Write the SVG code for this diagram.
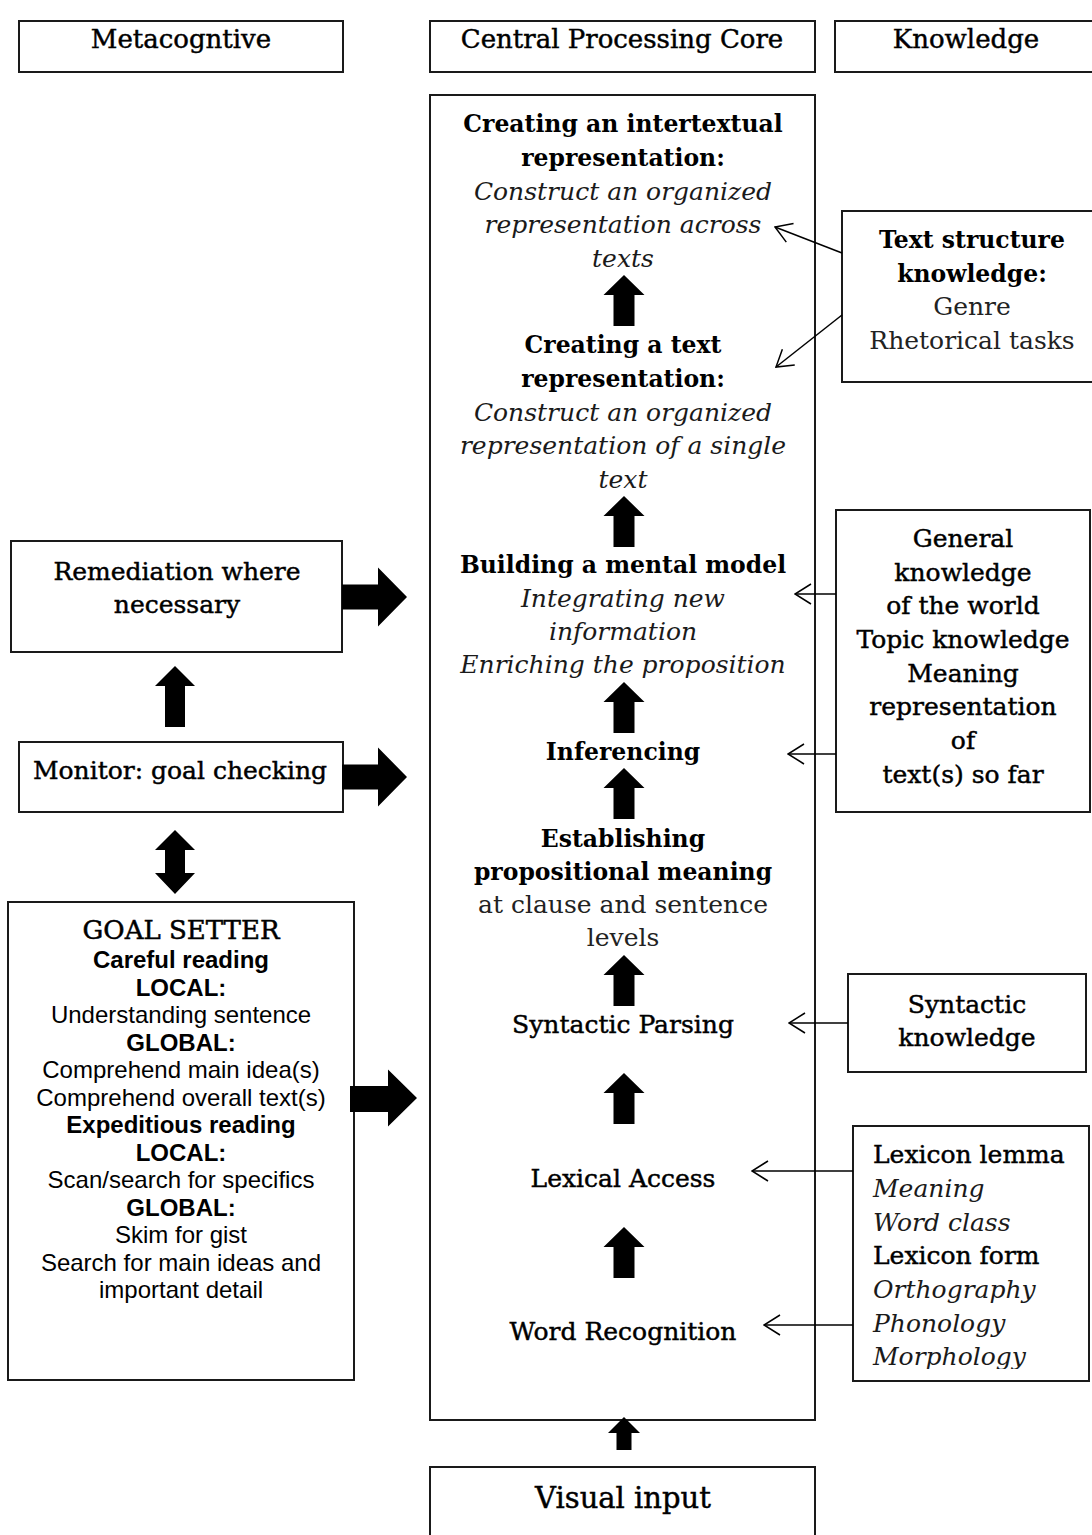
<svg xmlns="http://www.w3.org/2000/svg" width="1092" height="1535" viewBox="0 0 1092 1535">
  <style>
    .box { fill: #fff; stroke: #1a1a1a; stroke-width: 2; }
    .ser { font-family: "DejaVu Serif", "Liberation Serif", serif; fill: #000; }
    .hd { font-size: 26px; stroke: #000; stroke-width: 0.45; }
    .b { font-size: 23.5px; font-weight: bold; }
    .r { font-size: 25px; stroke: #000; stroke-width: 0.45; }
    .lt { font-size: 25px; fill: #222; }
    .i { font-size: 25px; font-style: italic; fill: #1a1a1a; }
    .vis { font-size: 29px; stroke: #000; stroke-width: 0.45; }
    .gs { font-size: 26px; stroke: #000; stroke-width: 0.5; }
    .sans { font-family: "Liberation Sans", Arial, sans-serif; font-size: 24px; fill: #000; }
    .sb { font-weight: bold; }
    .c { text-anchor: middle; }
    .blk { fill: #000; }
    .link { stroke: #000; stroke-width: 1.5; fill: none; marker-end: url(#open); }
  </style>
  <defs>
    <marker id="open" viewBox="0 0 18 22" refX="17" refY="11" markerWidth="18" markerHeight="22" markerUnits="userSpaceOnUse" orient="auto">
      <path d="M1,1 L17,11 L1,21" fill="none" stroke="#000" stroke-width="1.5"/>
    </marker>
    <!-- large upward block arrow, tip at origin -->
    <path id="upArrow" d="M0,0 L20.5,20 L10.5,20 L10.5,51 L-10.5,51 L-10.5,20 L-20.5,20 Z"/>
    <!-- rightward block arrow, tip at origin -->
    <path id="rightArrow" d="M0,0 L-29,-29.5 L-29,-12.5 L-65,-12.5 L-65,12.5 L-29,12.5 L-29,29.5 Z"/>
    <clipPath id="lexClip"><rect x="853" y="1126" width="236" height="243"/></clipPath>
  </defs>

  <!-- column headers -->
  <g id="hdr-meta">
    <rect class="box" x="19" y="21" width="324" height="51"/>
    <text class="ser hd c" x="181" y="48">Metacogntive</text>
  </g>
  <g id="hdr-core">
    <rect class="box" x="430" y="21" width="385" height="51"/>
    <text class="ser hd c" x="622" y="48">Central Processing Core</text>
  </g>
  <g id="hdr-know">
    <rect class="box" x="835" y="21" width="262" height="51"/>
    <text class="ser hd c" x="966" y="48">Knowledge</text>
  </g>

  <!-- central processing core -->
  <g id="core">
    <rect class="box" x="430" y="95" width="385" height="1325"/>
    <g class="ser c">
      <text class="b" x="623" y="132">Creating an intertextual</text>
      <text class="b" x="623" y="166">representation:</text>
      <text class="i" x="623" y="200">Construct an organized</text>
      <text class="i" x="623" y="233">representation across</text>
      <text class="i" x="623" y="267">texts</text>

      <text class="b" x="623" y="353">Creating a text</text>
      <text class="b" x="623" y="387">representation:</text>
      <text class="i" x="623" y="421">Construct an organized</text>
      <text class="i" x="623" y="454">representation of a single</text>
      <text class="i" x="623" y="488">text</text>

      <text class="b" x="623" y="573">Building a mental model</text>
      <text class="i" x="623" y="607">Integrating new</text>
      <text class="i" x="623" y="640">information</text>
      <text class="i" x="623" y="673">Enriching the proposition</text>

      <text class="b" x="623" y="760">Inferencing</text>

      <text class="b" x="623" y="847">Establishing</text>
      <text class="b" x="623" y="880">propositional meaning</text>
      <text class="lt" x="623" y="913">at clause and sentence</text>
      <text class="lt" x="623" y="946">levels</text>

      <text class="r" x="623" y="1033">Syntactic Parsing</text>
      <text class="r" x="623" y="1187">Lexical Access</text>
      <text class="r" x="623" y="1340">Word Recognition</text>
    </g>
    <g class="blk">
      <use href="#upArrow" x="624" y="275"/>
      <use href="#upArrow" x="624" y="496"/>
      <use href="#upArrow" x="624" y="682"/>
      <use href="#upArrow" x="624" y="768"/>
      <use href="#upArrow" x="624" y="955"/>
      <use href="#upArrow" x="624" y="1073"/>
      <use href="#upArrow" x="624" y="1227"/>
    </g>
  </g>

  <g id="visual-input">
    <rect class="box" x="430" y="1467" width="385" height="80"/>
    <text class="ser vis c" x="623" y="1508">Visual input</text>
  </g>

  <!-- knowledge sources -->
  <g id="text-structure">
    <rect class="box" x="842" y="211" width="255" height="171"/>
    <g class="ser c">
      <text class="b" x="972" y="248">Text structure</text>
      <text class="b" x="972" y="282">knowledge:</text>
      <text class="lt" x="972" y="315">Genre</text>
      <text class="lt" x="972" y="349">Rhetorical tasks</text>
    </g>
  </g>
  <g id="general-knowledge">
    <rect class="box" x="836" y="510" width="254" height="302"/>
    <g class="ser r c">
      <text x="963" y="547">General</text>
      <text x="963" y="581">knowledge</text>
      <text x="963" y="614">of the world</text>
      <text x="963" y="648">Topic knowledge</text>
      <text x="963" y="682">Meaning</text>
      <text x="963" y="715">representation</text>
      <text x="963" y="749">of</text>
      <text x="963" y="783">text(s) so far</text>
    </g>
  </g>
  <g id="syntactic-knowledge">
    <rect class="box" x="848" y="974" width="238" height="98"/>
    <g class="ser r c">
      <text x="967" y="1013">Syntactic</text>
      <text x="967" y="1046">knowledge</text>
    </g>
  </g>
  <g id="lexicon">
    <rect class="box" x="853" y="1126" width="236" height="255"/>
    <g class="ser" clip-path="url(#lexClip)">
      <text class="r" x="873" y="1163">Lexicon lemma</text>
      <text class="i" x="873" y="1197">Meaning</text>
      <text class="i" x="873" y="1231">Word class</text>
      <text class="r" x="873" y="1264">Lexicon form</text>
      <text class="i" x="873" y="1298">Orthography</text>
      <text class="i" x="873" y="1332">Phonology</text>
      <text class="i" x="873" y="1365">Morphology</text>
    </g>
  </g>

  <!-- metacognitive control -->
  <g id="remediation">
    <rect class="box" x="11" y="541" width="331" height="111"/>
    <g class="ser r c">
      <text x="177" y="580">Remediation where</text>
      <text x="177" y="613">necessary</text>
    </g>
  </g>
  <g id="monitor">
    <rect class="box" x="19" y="742" width="324" height="70"/>
    <text class="ser r c" x="180" y="779">Monitor: goal checking</text>
  </g>
  <g id="goal-setter">
    <rect class="box" x="8" y="902" width="346" height="478"/>
    <text class="ser gs c" x="181" y="939">GOAL SETTER</text>
    <g class="sans c">
      <text class="sb" x="181" y="968">Careful reading</text>
      <text class="sb" x="181" y="996">LOCAL:</text>
      <text x="181" y="1023">Understanding sentence</text>
      <text class="sb" x="181" y="1051">GLOBAL:</text>
      <text x="181" y="1078">Comprehend main idea(s)</text>
      <text x="181" y="1106">Comprehend overall text(s)</text>
      <text class="sb" x="181" y="1133">Expeditious reading</text>
      <text class="sb" x="181" y="1161">LOCAL:</text>
      <text x="181" y="1188">Scan/search for specifics</text>
      <text class="sb" x="181" y="1216">GLOBAL:</text>
      <text x="181" y="1243">Skim for gist</text>
      <text x="181" y="1271">Search for main ideas and</text>
      <text x="181" y="1298">important detail</text>
    </g>
  </g>

  <!-- connectors -->
  <g id="connectors">
    <g class="blk">
      <!-- block arrows into the core -->
      <use href="#rightArrow" x="407" y="597"/>
      <use href="#rightArrow" x="407" y="777"/>
      <path d="M417,1098 L388,1069.5 L388,1086 L350,1086 L350,1112 L388,1112 L388,1126.5 Z"/>
      <!-- monitor to remediation -->
      <path d="M175,666 L195,686 L185,686 L185,727 L165,727 L165,686 L155,686 Z"/>
      <!-- monitor / goal setter two-way -->
      <path d="M175,830 L195,850 L185,850 L185,873 L195,873 L175,894 L155,873 L165,873 L165,850 L155,850 Z"/>
      <!-- visual input to core -->
      <path d="M624,1417 L640,1433 L631.5,1433 L631.5,1450 L616.5,1450 L616.5,1433 L608,1433 Z"/>
    </g>
    <line class="link" x1="842" y1="253" x2="775" y2="227"/>
    <line class="link" x1="842" y1="315" x2="776" y2="367"/>
    <line class="link" x1="836" y1="594" x2="795" y2="594"/>
    <line class="link" x1="836" y1="754" x2="788" y2="754"/>
    <line class="link" x1="848" y1="1023" x2="789" y2="1023"/>
    <line class="link" x1="853" y1="1171" x2="752" y2="1171"/>
    <line class="link" x1="853" y1="1325" x2="764" y2="1325"/>
  </g>
</svg>
